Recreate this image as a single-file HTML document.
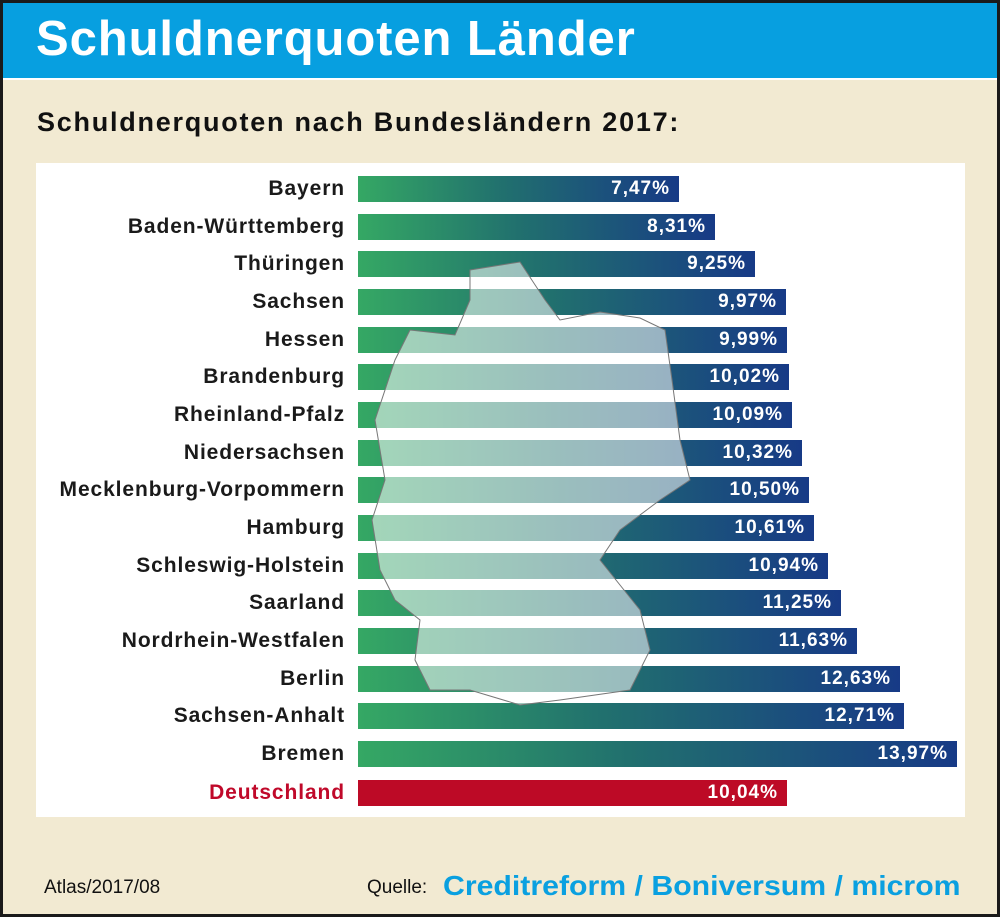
<!DOCTYPE html>
<html><head><meta charset="utf-8"><style>
body{margin:0;width:1000px;height:917px;overflow:hidden;background:#1a1a1a;font-family:"Liberation Sans",sans-serif}
#f{position:absolute;left:3px;top:3px;width:994px;height:911px;background:#f2ead2}
#h{position:absolute;left:0;top:0;width:994px;height:75px;background:#079fe0;border-bottom:2px solid #fff}
#h div{position:absolute;left:33px;top:8px;color:#fff;font-weight:bold;font-size:49px;letter-spacing:0.9px}
#st{position:absolute;left:37px;top:107px;font-weight:bold;font-size:27px;color:#111;letter-spacing:1.75px}
#p{position:absolute;left:36px;top:163px;width:929px;height:654px;background:#fff}
.l{position:absolute;right:655px;width:340px;text-align:right;font-weight:bold;font-size:21px;color:#1a1a1a;line-height:26px;letter-spacing:0.9px}
.b{position:absolute;left:358px;height:26px;background:linear-gradient(90deg,#35a864,#21706e 45%,#173a86);color:#fff;font-weight:bold;font-size:19px;line-height:26px;text-align:right;box-sizing:border-box;padding-right:9px;letter-spacing:1px}
#ft{position:absolute;left:44px;top:877px;font-size:19px;color:#111}
#q{position:absolute;left:367px;top:877px;font-size:19px;color:#111}
#cr{position:absolute;left:443px;top:870px;font-size:28px;font-weight:bold;color:#0aa0e0;letter-spacing:0px;transform:scaleX(1.08);transform-origin:left}
</style></head><body>
<div id="f">
<div id="h"><div>Schuldnerquoten Länder</div></div>
</div>
<div id="st">Schuldnerquoten nach Bundesländern 2017:</div>
<div id="p"></div>
<div class="l" style="top:176px">Bayern</div><div class="b" style="top:176px;width:321px">7,47%</div>
<div class="l" style="top:214px">Baden-Württemberg</div><div class="b" style="top:214px;width:357px">8,31%</div>
<div class="l" style="top:251px">Thüringen</div><div class="b" style="top:251px;width:397px">9,25%</div>
<div class="l" style="top:289px">Sachsen</div><div class="b" style="top:289px;width:428px">9,97%</div>
<div class="l" style="top:327px">Hessen</div><div class="b" style="top:327px;width:429px">9,99%</div>
<div class="l" style="top:364px">Brandenburg</div><div class="b" style="top:364px;width:431px">10,02%</div>
<div class="l" style="top:402px">Rheinland-Pfalz</div><div class="b" style="top:402px;width:434px">10,09%</div>
<div class="l" style="top:440px">Niedersachsen</div><div class="b" style="top:440px;width:444px">10,32%</div>
<div class="l" style="top:477px">Mecklenburg-Vorpommern</div><div class="b" style="top:477px;width:451px">10,50%</div>
<div class="l" style="top:515px">Hamburg</div><div class="b" style="top:515px;width:456px">10,61%</div>
<div class="l" style="top:553px">Schleswig-Holstein</div><div class="b" style="top:553px;width:470px">10,94%</div>
<div class="l" style="top:590px">Saarland</div><div class="b" style="top:590px;width:483px">11,25%</div>
<div class="l" style="top:628px">Nordrhein-Westfalen</div><div class="b" style="top:628px;width:499px">11,63%</div>
<div class="l" style="top:666px">Berlin</div><div class="b" style="top:666px;width:542px">12,63%</div>
<div class="l" style="top:703px">Sachsen-Anhalt</div><div class="b" style="top:703px;width:546px">12,71%</div>
<div class="l" style="top:741px">Bremen</div><div class="b" style="top:741px;width:599px">13,97%</div>
<div class="l" style="top:780px;color:#c0092a">Deutschland</div><div class="b" style="top:780px;width:429px;background:#bd0a26">10,04%</div>
<svg style="position:absolute;left:0;top:0" width="1000" height="917">
<polygon points="470,270 520,262 545,300 560,320 600,312 640,318 665,330 672,380 680,440 690,480 660,500 620,530 600,560 640,610 650,650 630,690 560,700 520,705 470,690 430,690 415,660 420,620 395,600 380,570 372,520 385,480 375,420 395,360 410,330 455,335 470,300" fill="#fff" fill-opacity="0.55" stroke="#777" stroke-width="1"/>
</svg>
<div id="ft">Atlas/2017/08</div>
<div id="q">Quelle:</div>
<div id="cr">Creditreform / Boniversum / microm</div>
</body></html>
